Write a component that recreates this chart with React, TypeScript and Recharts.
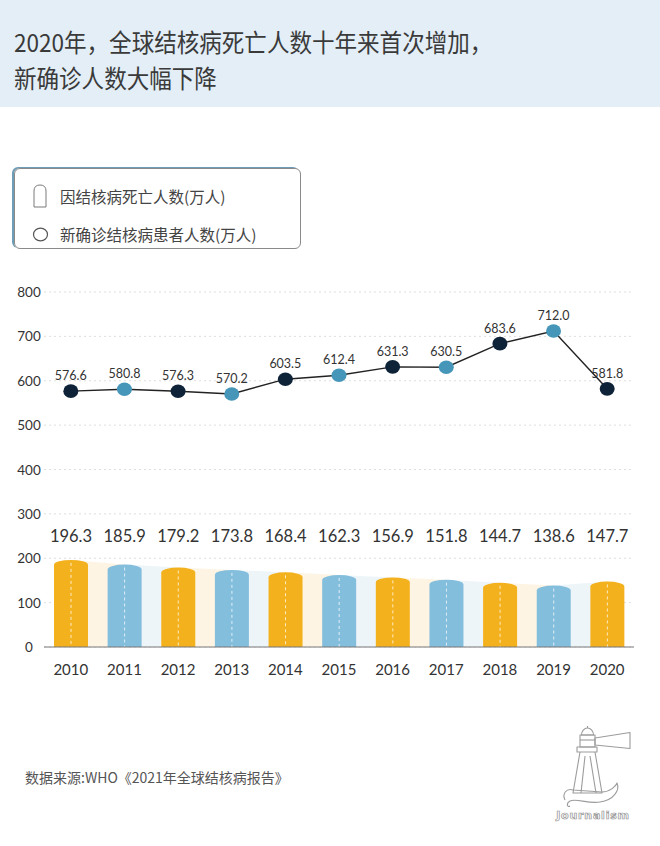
import React from "react";
import {
  Area,
  Bar,
  CartesianGrid,
  ComposedChart,
  LabelList,
  Line,
  XAxis,
  YAxis,
} from "recharts";

const years = ["2010", "2011", "2012", "2013", "2014", "2015", "2016", "2017", "2018", "2019", "2020"];
const deaths = [196.3, 185.9, 179.2, 173.8, 168.4, 162.3, 156.9, 151.8, 144.7, 138.6, 147.7];
const newCases = [576.6, 580.8, 576.3, 570.2, 603.5, 612.4, 631.3, 630.5, 683.6, 712.0, 581.8];
const yTicks = [0, 100, 200, 300, 400, 500, 600, 700, 800];

const data = years.map((year, i) => ({ year, deaths: deaths[i], cases: newCases[i] }));

const ORANGE = "#f4b11e";
const BLUE = "#84bedd";
const ORANGE_LIGHT = "#fdf4e4";
const BLUE_LIGHT = "#eef5f9";
const NAVY = "#0e2337";
const TEAL = "#4596b8";
const TEXT = "#333333";
const NUM_FONT = "Lato, 'Noto Sans', sans-serif";
const CJK_FONT = "'Noto Sans CJK SC', 'Noto Sans', sans-serif";

const RoundBar = (props: any) => {
  const { x, y, width, height, payload } = props;
  if (!height || height <= 0) return null;
  const i = years.indexOf(payload.year);
  const ry = 5;
  const fill = i % 2 ? BLUE : ORANGE;
  const d = `M${x},${y + height} L${x},${y + ry} A${width / 2},${ry} 0 0 1 ${x + width},${y + ry} L${x + width},${y + height} Z`;
  return (
    <g>
      <path d={d} fill={fill} />
      <line
        x1={x + width / 2}
        x2={x + width / 2}
        y1={y + 3}
        y2={y + height}
        stroke="#ffffff"
        strokeOpacity={0.75}
        strokeDasharray="3 3"
        strokeWidth={1}
      />
    </g>
  );
};

// bar values sit on one row, at the 250 level of the axis
const BarValue = (props: any) => {
  const { x, y, width, height, value } = props;
  if (!value) return null;
  const base = y + height;
  const perUnit = height / value;
  return (
    <text
      x={x + width / 2}
      y={base - 250 * perUnit}
      textAnchor="middle"
      dominantBaseline="central"
      fontSize={16.5}
      fill={TEXT}
      fontFamily={NUM_FONT}
    >
      {Number(value).toFixed(1)}
    </text>
  );
};

const LineValue = (props: any) => {
  const { x, y, value } = props;
  return (
    <text x={x} y={y - 11} textAnchor="middle" fontSize={12.5} fill={TEXT} fontFamily={NUM_FONT}>
      {Number(value).toFixed(1)}
    </text>
  );
};

const CaseDot = (props: any) => {
  const { cx, cy, index } = props;
  if (cx == null || cy == null) return null;
  return <ellipse key={index} cx={cx} cy={cy} rx={7.5} ry={6.8} fill={index % 2 ? TEAL : NAVY} />;
};

const YTick = (props: any) => {
  const { y, payload } = props;
  return (
    <text x={29} y={y} textAnchor="middle" dominantBaseline="central" fontSize={13.5} fill={TEXT} fontFamily={NUM_FONT}>
      {payload.value}
    </text>
  );
};

const Lighthouse = () => (
  <svg
    width={110}
    height={120}
    viewBox="0 0 110 120"
    style={{ position: "absolute", left: 540, top: 720 }}
  >
    <g fill="none" stroke="#9c9c9c" strokeWidth={1.1} strokeLinejoin="round">
      <path d="M41.5,15 A6,7 0 0 1 53.5,15 Z" />
      <line x1={47.5} y1={6} x2={47.5} y2={8} />
      <rect x={40} y={15} width={15} height={12} />
      <line x1={40} y1={20} x2={55} y2={20} />
      <path d="M55,18 L90,12.5 L90,28.5 L55,25 Z" />
      <rect x={37} y={27} width={20} height={5} />
      <path d="M40,32 L33,73 L62,73 L55,32" />
      <path d="M45,36 L41,73" />
      <path d="M50,36 L56,73" />
      <path d="M25,80 C22,74 26,68 33,70 L62,72 C70,72 76,66 77,63 C80,70 74,80 60,82 C48,84 36,78 30,81 C26,83 27,88 30,86" />
    </g>
    <text
      x={53}
      y={99}
      textAnchor="middle"
      fontSize={11}
      fontWeight={700}
      fontFamily="'DejaVu Sans', sans-serif"
      fill="#ffffff"
      stroke="#939393"
      strokeWidth={0.7}
      letterSpacing={0.8}
    >
      Journalism
    </text>
  </svg>
);

const titleLine: React.CSSProperties = {
  position: "absolute",
  left: 14,
  fontSize: 24.5,
  lineHeight: "28px",
  height: 28,
  color: "#3a3a3a",
  whiteSpace: "nowrap",
  transform: "scaleX(0.92)",
  transformOrigin: "left top",
};

const App = () => {
  const stripeStops: React.ReactNode[] = [];
  for (let i = 0; i < years.length - 1; i++) {
    const c = i % 2 ? BLUE_LIGHT : ORANGE_LIGHT;
    const n = years.length - 1;
    stripeStops.push(<stop key={`a${i}`} offset={i / n} stopColor={c} />);
    stripeStops.push(<stop key={`b${i}`} offset={(i + 1) / n} stopColor={c} />);
  }

  return (
    <div
      style={{
        position: "absolute",
        left: 0,
        top: 0,
        width: 660,
        height: 846,
        background: "#ffffff",
        overflow: "hidden",
        fontFamily: CJK_FONT,
      }}
    >
      <div
        style={{
          position: "absolute",
          left: 0,
          top: 0,
          width: 660,
          height: 107,
          background: "#e3eef7",
        }}
      >
        <div style={{ ...titleLine, top: 28 }}>2020年，全球结核病死亡人数十年来首次增加，</div>
        <div style={{ ...titleLine, top: 64 }}>新确诊人数大幅下降</div>
      </div>

      <div
        style={{
          position: "absolute",
          left: 14,
          top: 168,
          width: 287,
          height: 81,
          border: "1px solid #8a8a8a",
          borderRadius: 6,
          boxShadow: "-2px -1px 0 0 #6e9db8",
          boxSizing: "border-box",
        }}
      >
        <svg width={40} height={80} style={{ position: "absolute", left: 0, top: 0 }}>
          <path
            d="M19,38 L19,22 Q19,16 25,16 Q31,16 31,22 L31,38 Z"
            fill="#ffffff"
            stroke="#7a7a7a"
            strokeWidth={1}
          />
          <ellipse cx={25.5} cy={65.5} rx={7} ry={6.3} fill="#ffffff" stroke="#555" strokeWidth={1.2} />
        </svg>
        <div style={{ position: "absolute", left: 45, top: 16, fontSize: 15.5, color: "#444", whiteSpace: "nowrap", lineHeight: "22px" }}>
          因结核病死亡人数(万人)
        </div>
        <div style={{ position: "absolute", left: 45, top: 54, fontSize: 15.5, color: "#444", whiteSpace: "nowrap", lineHeight: "22px" }}>
          新确诊结核病患者人数(万人)
        </div>
      </div>

      <div style={{ position: "absolute", left: 0, top: 270 }}>
        <ComposedChart
          width={660}
          height={422}
          data={data}
          margin={{ top: 22, right: 26, bottom: 5, left: 0 }}
        >
          <defs>
            <linearGradient id="bandFill" x1="0" y1="0" x2="1" y2="0">
              {stripeStops}
            </linearGradient>
          </defs>
          <CartesianGrid vertical={false} stroke="#dedede" strokeDasharray="2 3" />
          <XAxis
            dataKey="year"
            axisLine={{ stroke: "#777777", strokeWidth: 1 }}
            tickLine={false}
            tickMargin={11}
            height={40}
            interval={0}
            tick={{ fontSize: 15, fill: TEXT, fontFamily: NUM_FONT }}
          />
          <YAxis
            domain={[0, 800]}
            ticks={yTicks}
            width={44}
            axisLine={false}
            tickLine={false}
            tick={<YTick />}
          />
          <Area
            dataKey="deaths"
            type="linear"
            fill="url(#bandFill)"
            fillOpacity={1}
            stroke="none"
            isAnimationActive={false}
            dot={false}
            activeDot={false}
          />
          <Bar dataKey="deaths" barSize={34} shape={<RoundBar />} isAnimationActive={false}>
            <LabelList dataKey="deaths" content={<BarValue />} />
          </Bar>
          <Line
            dataKey="cases"
            type="linear"
            stroke="#222222"
            strokeWidth={1.4}
            dot={<CaseDot />}
            activeDot={false}
            isAnimationActive={false}
          >
            <LabelList dataKey="cases" content={<LineValue />} />
          </Line>
        </ComposedChart>
      </div>

      <div
        style={{
          position: "absolute",
          left: 25,
          top: 767,
          fontSize: 14,
          color: "#555555",
          whiteSpace: "nowrap",
          lineHeight: "20px",
        }}
      >
        数据来源:WHO《2021年全球结核病报告》
      </div>

      <Lighthouse />
    </div>
  );
};

export default App;
